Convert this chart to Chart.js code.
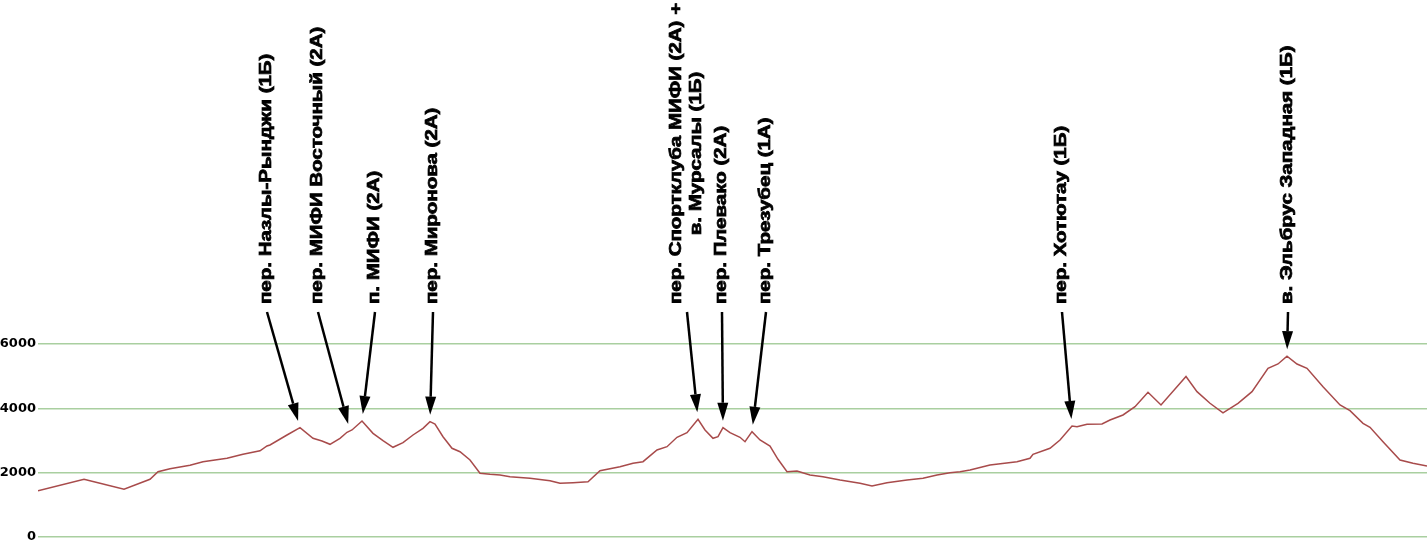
<!DOCTYPE html>
<html>
<head>
<meta charset="utf-8">
<script src="https://cdn.jsdelivr.net/npm/chart.js@4/dist/chart.umd.min.js"></script>
<style>
  html, body { margin: 0; padding: 0; background: #fff; }
  canvas { display: block; }
</style>
</head>
<body>
<canvas id="profile" width="1427" height="558"></canvas>
<script>
// расстояние вдоль маршрута (условные единицы) и высота, м
const DIST = [
    0, 46, 86, 112, 120, 132, 152, 165, 189, 205, 222, 229, 232, 249, 262, 275, 284, 292, 302, 309,
    312, 314, 324, 335, 345, 355, 365, 375, 385, 392, 397, 405, 414, 422, 432, 442, 452, 462, 472, 492,
    512, 522, 535, 550, 562, 582, 595, 605, 619, 629, 639, 649, 660, 667, 675, 680, 685, 692, 702, 707,
    714, 722, 732, 740, 749, 759, 772, 785, 802, 822, 834, 849, 869, 885, 899, 912, 922, 932, 952, 979,
    992, 995, 1012, 1022, 1034, 1039, 1049, 1064, 1072, 1085, 1097, 1110, 1123, 1148, 1159, 1172, 1185, 1200, 1214, 1230,
    1240, 1249, 1259, 1269, 1285, 1302, 1312, 1325, 1332, 1345, 1362, 1375, 1389
];
const ELEVATION = [
    1440, 1794, 1483, 1794, 2030, 2123, 2229, 2341, 2447, 2571, 2680, 2829, 2860, 3171, 3398, 3068, 2985, 2882, 3068, 3255,
    3300, 3327, 3606, 3223, 2994, 2789, 2932, 3171, 3379, 3585, 3513, 3118, 2758, 2652, 2394, 1980, 1949, 1928, 1875, 1825,
    1750, 1670, 1688, 1719, 2061, 2186, 2291, 2341, 2705, 2807, 3100, 3243, 3659, 3327, 3068, 3118, 3398, 3243, 3100, 2963,
    3274, 3016, 2829, 2416, 2030, 2052, 1928, 1875, 1772, 1670, 1586, 1688, 1772, 1825, 1928, 1999, 2030, 2083, 2238, 2341,
    2447, 2571, 2758, 3016, 3451, 3430, 3504, 3513, 3638, 3793, 4051, 4499, 4104, 4990, 4518, 4157, 3860, 4157, 4518, 5245,
    5379, 5620, 5379, 5245, 4673, 4104, 3927, 3535, 3410, 2963, 2394, 2291, 2207
];
const Y_TICKS = [0, 2000, 4000, 6000];

// перевалы и вершины
const PASS_NAMES = [
    ['пер. Назлы-Рынджи (1Б)'],
    ['пер. МИФИ Восточный (2А)'],
    ['п. МИФИ (2А)'],
    ['пер. Миронова (2А)'],
    ['пер. Спортклуба МИФИ (2А) +', 'в. Мурсалы (1Б)'],
    ['пер. Плевако (2А)'],
    ['пер. Трезубец (1А)'],
    ['пер. Хотютау (1Б)'],
    ['в. Эльбрус Западная (1Б)']
];
const PASS_AT = [262, 312, 324, 392, 660, 685, 714, 1034, 1249];
const LABEL_AT = [229, 280, 337, 395, 649, 684, 728, 1024, 1250];

const LABEL_BASE = 304;   // нижний край подписей
const ARROW_TOP = 312;
const TEXT_STRETCH = 1.28;

const passLabels = {
    id: 'passLabels',
    afterDatasetsDraw(chart) {
        const ctx = chart.ctx;
        const xs = chart.scales.x, ys = chart.scales.y;
        PASS_NAMES.forEach((lines, i) => {
            const lx = xs.getPixelForValue(LABEL_AT[i]);

            // подпись
            ctx.save();
            ctx.font = 'bold 16px "Liberation Sans", Arial, sans-serif';
            ctx.fillStyle = '#000';
            ctx.strokeStyle = '#000';
            ctx.lineWidth = 0.7;
            ctx.textBaseline = 'middle';
            ctx.textAlign = 'left';
            ctx.translate(lx, LABEL_BASE);
            ctx.rotate(-Math.PI / 2);
            ctx.scale(TEXT_STRETCH, 1);
            const widths = lines.map(s => ctx.measureText(s).width);
            const maxW = Math.max(...widths);
            lines.forEach((s, k) => {
                const off = (k - (lines.length - 1) / 2) * 20;
                const sx = (maxW - widths[k]) / 2;
                ctx.fillText(s, sx, off);
                ctx.strokeText(s, sx, off);
            });
            ctx.restore();

            // стрелка
            const idx = DIST.indexOf(PASS_AT[i]);
            const px = xs.getPixelForValue(PASS_AT[i]);
            const py = ys.getPixelForValue(ELEVATION[idx]);
            const dx = px - lx, dy = py - ARROW_TOP;
            const len = Math.hypot(dx, dy);
            const ux = dx / len, uy = dy / len;
            const tx = px - ux * 7, ty = py - uy * 7;
            const headL = 18, headW = 5.5;
            const bx = tx - ux * headL, by = ty - uy * headL;

            ctx.save();
            ctx.strokeStyle = '#000';
            ctx.fillStyle = '#000';
            ctx.lineWidth = 2.5;
            ctx.beginPath();
            ctx.moveTo(lx, ARROW_TOP);
            ctx.lineTo(bx, by);
            ctx.stroke();
            ctx.beginPath();
            ctx.moveTo(tx, ty);
            ctx.lineTo(bx - uy * headW, by + ux * headW);
            ctx.lineTo(bx + uy * headW, by - ux * headW);
            ctx.closePath();
            ctx.fill();
            ctx.restore();
        });
    }
};

new Chart(document.getElementById('profile'), {
    type: 'line',
    data: {
        datasets: [{
            data: DIST.map((d, i) => ({ x: d, y: ELEVATION[i] })),
            borderColor: '#a84b4b',
            borderWidth: 1.5,
            pointRadius: 0,
            tension: 0,
            fill: false
        }]
    },
    options: {
        responsive: false,
        animation: false,
        layout: { padding: { top: 344, bottom: 21, left: 0, right: 0 } },
        scales: {
            x: { type: 'linear', min: 0, max: 1389, display: false },
            y: {
                min: 0,
                max: 6000,
                afterFit: (s) => { s.width = 38; },
                afterBuildTicks: (s) => { s.ticks = Y_TICKS.map(v => ({ value: v })); },
                border: { display: false },
                grid: { color: '#a9cfa0', lineWidth: 1.6, drawTicks: false },
                ticks: {
                    padding: 2,
                    color: '#000',
                    font: { family: '"DejaVu Sans", sans-serif', size: 13, weight: 'bold' },
                    callback: (v) => String(v)
                }
            }
        },
        plugins: {
            legend: { display: false },
            tooltip: { enabled: false }
        }
    },
    plugins: [passLabels]
});
</script>
</body>
</html>
